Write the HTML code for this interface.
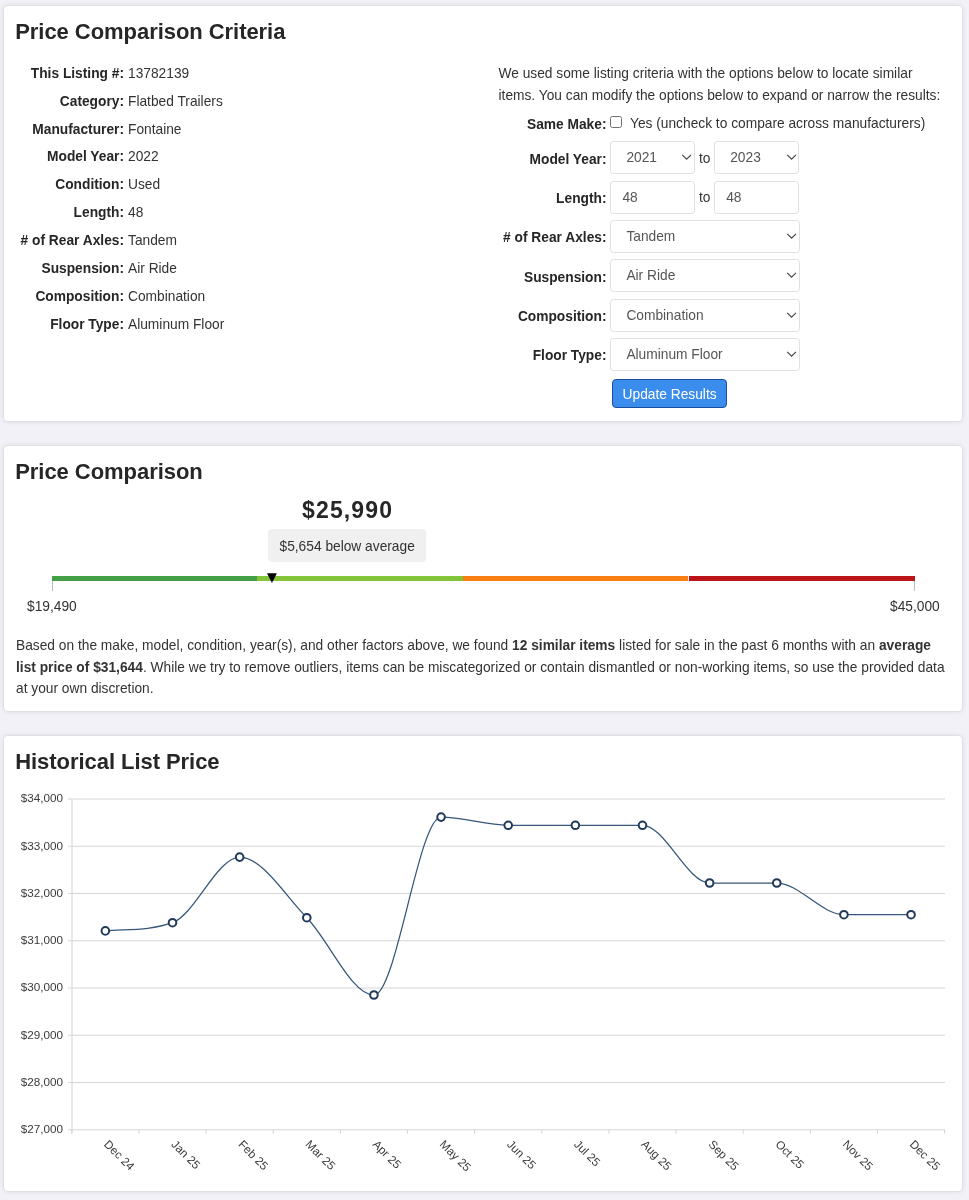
<!DOCTYPE html>
<html><head><meta charset="utf-8">
<style>
*{box-sizing:border-box;margin:0;padding:0}
html,body{width:969px;height:1200px;overflow:hidden}
body{background:#f1f1f7;font-family:"Liberation Sans",sans-serif;color:#333;position:relative}
#wrap{position:absolute;left:0;top:0;width:969px;height:1200px;will-change:transform}
.card{position:absolute;left:4px;width:958px;background:#fff;border-radius:4px;box-shadow:0 0 0 1px rgba(0,0,0,.03),0 0 5px 1px rgba(0,0,0,.085)}
.a{position:absolute;white-space:nowrap}
.t{font-size:22px;font-weight:700;color:#262626;line-height:22px;letter-spacing:-0.05px}
.b{font-size:13.75px;line-height:15px}
.lab{font-weight:700;text-align:right;color:#262626}
.fld{position:absolute;height:33px;border:1px solid #e0e0e0;border-radius:3.5px;background:#fff;font-size:13.75px;color:#555;line-height:31px}
.chev{position:absolute;top:12px;width:7px;height:7px;border-right:1.3px solid #666;border-bottom:1.3px solid #666;transform:rotate(45deg)}
</style></head><body><div id="wrap">

<!-- CARD 1 -->
<div class="card" style="top:6px;height:415px"></div>
<div class="a t" style="left:15.2px;top:20.6px">Price Comparison Criteria</div>

<div id="leftcol">
<div class="a b lab" style="right:845px;top:65.60px">This Listing #:</div><div class="a b" style="left:128px;top:65.60px">13782139</div>
<div class="a b lab" style="right:845px;top:93.55px">Category:</div><div class="a b" style="left:128px;top:93.55px">Flatbed Trailers</div>
<div class="a b lab" style="right:845px;top:121.50px">Manufacturer:</div><div class="a b" style="left:128px;top:121.50px">Fontaine</div>
<div class="a b lab" style="right:845px;top:149.45px">Model Year:</div><div class="a b" style="left:128px;top:149.45px">2022</div>
<div class="a b lab" style="right:845px;top:177.40px">Condition:</div><div class="a b" style="left:128px;top:177.40px">Used</div>
<div class="a b lab" style="right:845px;top:205.35px">Length:</div><div class="a b" style="left:128px;top:205.35px">48</div>
<div class="a b lab" style="right:845px;top:233.30px">#&nbsp;of Rear Axles:</div><div class="a b" style="left:128px;top:233.30px">Tandem</div>
<div class="a b lab" style="right:845px;top:261.25px">Suspension:</div><div class="a b" style="left:128px;top:261.25px">Air Ride</div>
<div class="a b lab" style="right:845px;top:289.20px">Composition:</div><div class="a b" style="left:128px;top:289.20px">Combination</div>
<div class="a b lab" style="right:845px;top:317.15px">Floor Type:</div><div class="a b" style="left:128px;top:317.15px">Aluminum Floor</div>
</div>

<div class="a b" style="left:498.5px;top:63.1px;line-height:21.6px">We used some listing criteria with the options below to locate similar<br>items. You can modify the options below to expand or narrow the results:</div>

<div class="a b lab" style="right:362.5px;top:116.8px">Same Make:</div>
<div class="a" style="left:610px;top:116.1px;width:11.7px;height:11.7px;border:1px solid #707070;border-radius:2.5px;background:#fff"></div>
<div class="a b" style="left:630px;top:115.8px">Yes (uncheck to compare across manufacturers)</div>

<div class="a b lab" style="right:362.5px;top:151.8px">Model Year:</div>
<div class="fld" style="left:610.4px;top:141px;width:84.3px"><span style="position:absolute;left:15px">2021</span><svg style="position:absolute;left:69.5px;top:9.2px" width="12" height="12"><polyline points="1.2,3.9 5.6,8.2 10,3.9" fill="none" stroke="#4a4a4a" stroke-width="1.25"/></svg></div>
<div class="a b" style="left:699px;top:150.6px">to</div>
<div class="fld" style="left:714.2px;top:141px;width:85.2px"><span style="position:absolute;left:15px">2023</span><svg style="position:absolute;left:70.5px;top:9.2px" width="12" height="12"><polyline points="1.2,3.9 5.6,8.2 10,3.9" fill="none" stroke="#4a4a4a" stroke-width="1.25"/></svg></div>

<div class="a b lab" style="right:362.5px;top:190.8px">Length:</div>
<div class="fld" style="left:610.4px;top:181px;width:84.3px"><span style="position:absolute;left:11px">48</span></div>
<div class="a b" style="left:699px;top:189.6px">to</div>
<div class="fld" style="left:714.2px;top:181px;width:85.2px"><span style="position:absolute;left:11px">48</span></div>

<div class="a b lab" style="right:362.5px;top:230.2px">#&nbsp;of Rear Axles:</div>
<div class="fld" style="left:610.4px;top:220px;width:189.4px"><span style="position:absolute;left:15px">Tandem</span><svg style="position:absolute;left:174.5px;top:9.2px" width="12" height="12"><polyline points="1.2,3.9 5.6,8.2 10,3.9" fill="none" stroke="#4a4a4a" stroke-width="1.25"/></svg></div>
<div class="a b lab" style="right:362.5px;top:269.5px">Suspension:</div>
<div class="fld" style="left:610.4px;top:259px;width:189.4px"><span style="position:absolute;left:15px">Air Ride</span><svg style="position:absolute;left:174.5px;top:9.2px" width="12" height="12"><polyline points="1.2,3.9 5.6,8.2 10,3.9" fill="none" stroke="#4a4a4a" stroke-width="1.25"/></svg></div>
<div class="a b lab" style="right:362.5px;top:308.9px">Composition:</div>
<div class="fld" style="left:610.4px;top:299px;width:189.4px"><span style="position:absolute;left:15px">Combination</span><svg style="position:absolute;left:174.5px;top:9.2px" width="12" height="12"><polyline points="1.2,3.9 5.6,8.2 10,3.9" fill="none" stroke="#4a4a4a" stroke-width="1.25"/></svg></div>
<div class="a b lab" style="right:362.5px;top:348.2px">Floor Type:</div>
<div class="fld" style="left:610.4px;top:338px;width:189.4px"><span style="position:absolute;left:15px">Aluminum Floor</span><svg style="position:absolute;left:174.5px;top:9.2px" width="12" height="12"><polyline points="1.2,3.9 5.6,8.2 10,3.9" fill="none" stroke="#4a4a4a" stroke-width="1.25"/></svg></div>

<div class="a" style="left:611.6px;top:378.6px;width:115.8px;height:29px;background:#3b8ded;border:1.7px solid #1b4e9e;border-radius:4px;color:#fff;font-size:13.75px;line-height:29.5px;padding-left:10px">Update Results</div>

<!-- CARD 2 -->
<div class="card" style="top:445.5px;height:265px"></div>
<div class="a t" style="left:15.2px;top:460.6px">Price Comparison</div>
<div class="a" style="left:302px;top:499px;font-size:23px;font-weight:700;letter-spacing:1.15px;color:#262626;line-height:22px">$25,990</div>
<div class="a" style="left:268px;top:529.2px;width:158px;height:33.2px;background:#f0f0f0;border-radius:4px"></div>
<div class="a b" style="left:279.5px;top:539px">$5,654 below average</div>
<div class="a" style="left:51.5px;top:576px;width:205px;height:5px;background:#43a047"></div>
<div class="a" style="left:256.5px;top:576px;width:206.2px;height:5px;background:#84c43a"></div>
<div class="a" style="left:462.7px;top:576px;width:225.8px;height:5px;background:#f77f13"></div>
<div class="a" style="left:688.5px;top:576px;width:226px;height:5px;background:#bb1419"></div>
<div class="a" style="left:51.5px;top:581px;width:1px;height:10px;background:#bbb"></div>
<div class="a" style="left:914px;top:581px;width:1px;height:10px;background:#bbb"></div>
<svg class="a" style="left:0;top:0" width="969" height="1200"><path d="M267,573.3 L276.9,573.3 L271.95,583 Z" fill="#000"/></svg>
<div class="a b" style="left:27px;top:598.5px">$19,490</div>
<div class="a b" style="left:890px;top:598.5px">$45,000</div>
<div class="a b" style="left:16px;top:635px;line-height:21.6px">Based on the make, model, condition, year(s), and other factors above, we found <b>12 similar items</b> listed for sale in the past 6 months with an <b>average</b><br><b>list price of $31,644</b>. While we try to remove outliers, items can be miscategorized or contain dismantled or non-working items, so use the provided data<br>at your own discretion.</div>

<!-- CARD 3 -->
<div class="card" style="top:736px;height:455px"></div>
<div class="a t" style="left:15.2px;top:750.8px">Historical List Price</div>

<svg class="a" style="left:0;top:0" width="969" height="1200" id="chart">
<g stroke="#d6d6d6" stroke-width="1.1">
<line x1="68" y1="799" x2="945" y2="799"/>
<line x1="68" y1="846.3" x2="945" y2="846.3"/>
<line x1="68" y1="893.5" x2="945" y2="893.5"/>
<line x1="68" y1="940.8" x2="945" y2="940.8"/>
<line x1="68" y1="988" x2="945" y2="988"/>
<line x1="68" y1="1035.3" x2="945" y2="1035.3"/>
<line x1="68" y1="1082.5" x2="945" y2="1082.5"/>
<line x1="68" y1="1129.8" x2="945" y2="1129.8"/>
<line x1="72" y1="799" x2="72" y2="1133.5"/>
</g>
<g stroke="#d6d6d6" stroke-width="1.1"><line x1="71.80" y1="1129.8" x2="71.80" y2="1133.5"/><line x1="138.94" y1="1129.8" x2="138.94" y2="1133.5"/><line x1="206.08" y1="1129.8" x2="206.08" y2="1133.5"/><line x1="273.22" y1="1129.8" x2="273.22" y2="1133.5"/><line x1="340.36" y1="1129.8" x2="340.36" y2="1133.5"/><line x1="407.50" y1="1129.8" x2="407.50" y2="1133.5"/><line x1="474.64" y1="1129.8" x2="474.64" y2="1133.5"/><line x1="541.78" y1="1129.8" x2="541.78" y2="1133.5"/><line x1="608.92" y1="1129.8" x2="608.92" y2="1133.5"/><line x1="676.06" y1="1129.8" x2="676.06" y2="1133.5"/><line x1="743.20" y1="1129.8" x2="743.20" y2="1133.5"/><line x1="810.34" y1="1129.8" x2="810.34" y2="1133.5"/><line x1="877.48" y1="1129.8" x2="877.48" y2="1133.5"/><line x1="944.62" y1="1129.8" x2="944.62" y2="1133.5"/></g>
<g font-family="Liberation Sans" font-size="11.7" fill="#3a3a3a" text-anchor="end"><text x="63" y="802.4">$34,000</text><text x="63" y="849.7">$33,000</text><text x="63" y="896.9">$32,000</text><text x="63" y="944.2">$31,000</text><text x="63" y="991.4">$30,000</text><text x="63" y="1038.7">$29,000</text><text x="63" y="1085.9">$28,000</text><text x="63" y="1133.2">$27,000</text></g>
<g font-family="Liberation Sans" font-size="11.7" fill="#3a3a3a"><text transform="translate(103.37,1145) rotate(45)">Dec 24</text><text transform="translate(170.51,1145) rotate(45)">Jan 25</text><text transform="translate(237.65,1145) rotate(45)">Feb 25</text><text transform="translate(304.79,1145) rotate(45)">Mar 25</text><text transform="translate(371.93,1145) rotate(45)">Apr 25</text><text transform="translate(439.07,1145) rotate(45)">May 25</text><text transform="translate(506.21,1145) rotate(45)">Jun 25</text><text transform="translate(573.35,1145) rotate(45)">Jul 25</text><text transform="translate(640.49,1145) rotate(45)">Aug 25</text><text transform="translate(707.63,1145) rotate(45)">Sep 25</text><text transform="translate(774.77,1145) rotate(45)">Oct 25</text><text transform="translate(841.91,1145) rotate(45)">Nov 25</text><text transform="translate(909.05,1145) rotate(45)">Dec 25</text></g>
<path fill="none" stroke="#35577a" stroke-width="1.25" d="M105.37,930.90 C127.75,929.12 150.13,930.70 172.51,922.70 C194.89,914.70 217.27,857.10 239.65,857.10 C262.03,857.10 284.41,894.72 306.79,917.70 C329.17,940.68 351.55,995.00 373.93,995.00 C396.31,995.00 418.69,817.10 441.07,817.10 C463.45,817.10 485.83,825.30 508.21,825.30 C530.59,825.30 552.97,825.30 575.35,825.30 C597.73,825.30 620.11,825.30 642.49,825.30 C664.87,825.30 687.25,883.00 709.63,883.00 C732.01,883.00 754.39,883.00 776.77,883.00 C799.15,883.00 821.53,914.70 843.91,914.70 C866.29,914.70 888.67,914.70 911.05,914.70"/>
<g fill="#fff" stroke="#1f3a5a" stroke-width="2">
<circle cx="105.37" cy="930.90" r="3.8"/>
<circle cx="172.51" cy="922.70" r="3.8"/>
<circle cx="239.65" cy="857.10" r="3.8"/>
<circle cx="306.79" cy="917.70" r="3.8"/>
<circle cx="373.93" cy="995.00" r="3.8"/>
<circle cx="441.07" cy="817.10" r="3.8"/>
<circle cx="508.21" cy="825.30" r="3.8"/>
<circle cx="575.35" cy="825.30" r="3.8"/>
<circle cx="642.49" cy="825.30" r="3.8"/>
<circle cx="709.63" cy="883.00" r="3.8"/>
<circle cx="776.77" cy="883.00" r="3.8"/>
<circle cx="843.91" cy="914.70" r="3.8"/>
<circle cx="911.05" cy="914.70" r="3.8"/>
</g>
</svg>
</div></body></html>
